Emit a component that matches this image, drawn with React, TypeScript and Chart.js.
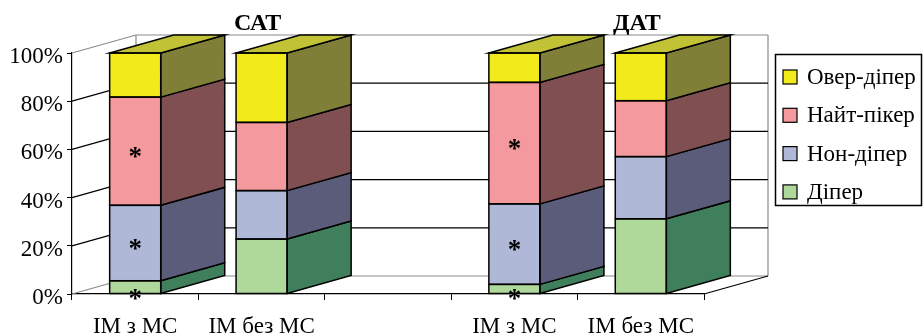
import { useEffect, useRef } from 'react';
import { Chart, registerables } from 'chart.js';

Chart.register(...registerables);

// ---------- data ----------
const categories = ['ІМ з МС', 'ІМ без МС', '', 'ІМ з МС', 'ІМ без МС'];
const groupTitles = ['САТ', 'ДАТ'];
const groupTitleCategory = [1, 4];
const seriesNames = ['Діпер', 'Нон-діпер', 'Найт-пікер', 'Овер-діпер'];
const diperValues = [5.5, 22.8, null, 4.0, 31.2];
const nonDiperValues = [31.3, 20.1, null, 33.4, 25.8];
const nightPeakerValues = [44.9, 28.3, null, 50.4, 23.2];
const overDiperValues = [18.3, 28.8, null, 12.2, 19.8];
const diperMarks = ['*', '', '', '*', ''];
const nonDiperMarks = ['*', '', '', '*', ''];
const nightPeakerMarks = ['*', '', '', '*', ''];
const overDiperMarks = ['', '', '', '', ''];
const yTickValues = [0, 20, 40, 60, 80, 100];

// ---------- styles ----------
const frontColors = ['#AED99B', '#B0B8D8', '#F4999D', '#F2EA1A'];
const sideColors = ['#3F7F5B', '#5B5B7A', '#7F4F52', '#807F38'];
const topColors = ['#8FC07A', '#8A8FAE', '#C07A7E', '#C2C236'];
const DX = 64;
const DY = -18;
const FONT = '"Liberation Serif", "Times New Roman", serif';
const WALL = '#8a8a8a';
const STAR_SIZE = 27;

const allValues = [diperValues, nonDiperValues, nightPeakerValues, overDiperValues];
const allMarks = [diperMarks, nonDiperMarks, nightPeakerMarks, overDiperMarks];

const threeD = {
  id: 'threeD',
  beforeDatasetsDraw(chart: any) {
    const ctx = chart.ctx;
    const { left, right, top, bottom } = chart.chartArea;
    const ys = chart.scales.y;
    ctx.save();
    ctx.lineWidth = 1.2;
    ctx.strokeStyle = WALL;
    ctx.beginPath();
    ctx.moveTo(left + DX, bottom + DY);
    ctx.lineTo(left + DX, top + DY);
    ctx.moveTo(right + DX, bottom + DY);
    ctx.lineTo(right + DX, top + DY);
    ctx.stroke();
    yTickValues.forEach((v) => {
      const py = ys.getPixelForValue(v);
      const edge = v === yTickValues[0] || v === yTickValues[yTickValues.length - 1];
      ctx.strokeStyle = edge ? WALL : '#000';
      ctx.beginPath();
      ctx.moveTo(left, py);
      ctx.lineTo(left + DX, py + DY);
      ctx.lineTo(right + DX, py + DY);
      ctx.stroke();
    });
    ctx.strokeStyle = '#000';
    ctx.beginPath();
    ctx.moveTo(right, bottom);
    ctx.lineTo(right + DX, bottom + DY);
    ctx.stroke();
    ctx.restore();
  },
  afterDatasetsDraw(chart: any) {
    const ctx = chart.ctx;
    const n = chart.data.datasets.length;
    ctx.save();
    ctx.lineWidth = 1.5;
    ctx.strokeStyle = '#000';
    ctx.lineJoin = 'miter';
    const cats = chart.data.labels.length;
    for (let j = 0; j < cats; j++) {
      let topIdx = -1;
      for (let i = 0; i < n; i++) {
        const v = chart.data.datasets[i].data[j];
        if (v !== null && v !== undefined) topIdx = i;
      }
      if (topIdx < 0) continue;
      for (let i = 0; i < n; i++) {
        const v = chart.data.datasets[i].data[j];
        if (v === null || v === undefined) continue;
        const el = chart.getDatasetMeta(i).data[j];
        const p = el.getProps(['x', 'y', 'base', 'width'], true);
        const l = p.x - p.width / 2;
        const r = p.x + p.width / 2;
        const t = Math.min(p.y, p.base);
        const b = Math.max(p.y, p.base);
        ctx.fillStyle = sideColors[i];
        ctx.beginPath();
        ctx.moveTo(r, t);
        ctx.lineTo(r + DX, t + DY);
        ctx.lineTo(r + DX, b + DY);
        ctx.lineTo(r, b);
        ctx.closePath();
        ctx.fill();
        ctx.stroke();
        if (i === topIdx) {
          ctx.fillStyle = topColors[i];
          ctx.beginPath();
          ctx.moveTo(l, t);
          ctx.lineTo(l + DX, t + DY);
          ctx.lineTo(r + DX, t + DY);
          ctx.lineTo(r, t);
          ctx.closePath();
          ctx.fill();
          ctx.stroke();
        }
        ctx.strokeRect(l, t, r - l, b - t);
      }
    }
    ctx.fillStyle = '#000';
    ctx.font = `bold ${STAR_SIZE}px ${FONT}`;
    ctx.textAlign = 'center';
    ctx.textBaseline = 'alphabetic';
    for (let i = 0; i < n; i++) {
      const marks = allMarks[i];
      for (let j = 0; j < cats; j++) {
        if (!marks[j]) continue;
        const el = chart.getDatasetMeta(i).data[j];
        const p = el.getProps(['x', 'y', 'base', 'width'], true);
        const t = Math.min(p.y, p.base);
        const b = Math.max(p.y, p.base);
        const c = b - t < 20 ? b : (t + b) / 2;
        ctx.fillText(marks[j], p.x, c + 0.5 * STAR_SIZE);
      }
    }
    ctx.restore();
  },
  afterDraw(chart: any) {
    const ctx = chart.ctx;
    const xs = chart.scales.x;
    ctx.save();
    ctx.fillStyle = '#000';
    ctx.font = `bold 24px ${FONT}`;
    ctx.textAlign = 'center';
    ctx.textBaseline = 'middle';
    groupTitles.forEach((t, k) => {
      ctx.fillText(t, xs.getPixelForValue(groupTitleCategory[k]) - 4, 24);
    });
    const bx = 775, by = 54, bw = 146, bh = 151;
    ctx.lineWidth = 1.5;
    ctx.strokeStyle = '#000';
    ctx.strokeRect(bx + 0.5, by + 0.5, bw, bh);
    ctx.font = `23px ${FONT}`;
    ctx.textAlign = 'left';
    const n = chart.data.datasets.length;
    for (let k = 0; k < n; k++) {
      const i = n - 1 - k;
      const cy = by + 23 + k * 38.3;
      ctx.fillStyle = frontColors[i];
      ctx.fillRect(783, cy - 7, 14, 14);
      ctx.lineWidth = 1.2;
      ctx.strokeRect(783, cy - 7, 14, 14);
      ctx.fillStyle = '#000';
      ctx.fillText(chart.data.datasets[i].label, 807, cy + 1);
    }
    ctx.restore();
  },
};

export default function App() {
  const ref = useRef<HTMLCanvasElement>(null);
  useEffect(() => {
    if (!ref.current) return;
    const chart = new Chart(ref.current, {
      type: 'bar',
      data: {
        labels: categories,
        datasets: seriesNames.map((name, i) => ({
          label: name,
          data: allValues[i],
          backgroundColor: frontColors[i],
          borderWidth: 0,
          barPercentage: 0.404,
          categoryPercentage: 1,
        })),
      },
      options: {
        responsive: false,
        animation: false,
        devicePixelRatio: 1,
        layout: { padding: { top: 53, right: 220, bottom: 0, left: 0 }, autoPadding: false },
        plugins: { legend: { display: false }, tooltip: { enabled: false }, title: { display: false } },
        scales: {
          x: {
            stacked: true,
            offset: true,
            grid: { offset: true, drawOnChartArea: false, drawTicks: true, tickLength: 6, color: '#000' },
            border: { display: true, color: '#000', width: 1.2 },
            ticks: {
              color: '#000',
              font: { family: FONT, size: 23 },
              maxRotation: 0,
              autoSkip: false,
              padding: 13,
            },
            afterFit(scale: any) {
              scale.height = 42;
            },
          },
          y: {
            stacked: true,
            min: 0,
            max: 100,
            grid: { drawOnChartArea: false, drawTicks: true, tickLength: 5, color: '#000' },
            border: { display: true, color: '#000', width: 1.2 },
            ticks: {
              stepSize: 20,
              color: '#000',
              font: { family: FONT, size: 23 },
              padding: 4,
              labelOffset: 4,
              callback: (v: any) => `${v}%`,
            },
            afterFit(scale: any) {
              scale.width = 72;
            },
          },
        },
      },
      plugins: [threeD],
    });
    return () => chart.destroy();
  }, []);
  return (
    <div style={{ position: 'fixed', left: 0, top: 0, width: 924, height: 336, background: '#fff' }}>
      <canvas ref={ref} width={924} height={336} style={{ width: 924, height: 336, display: 'block' }} />
    </div>
  );
}
